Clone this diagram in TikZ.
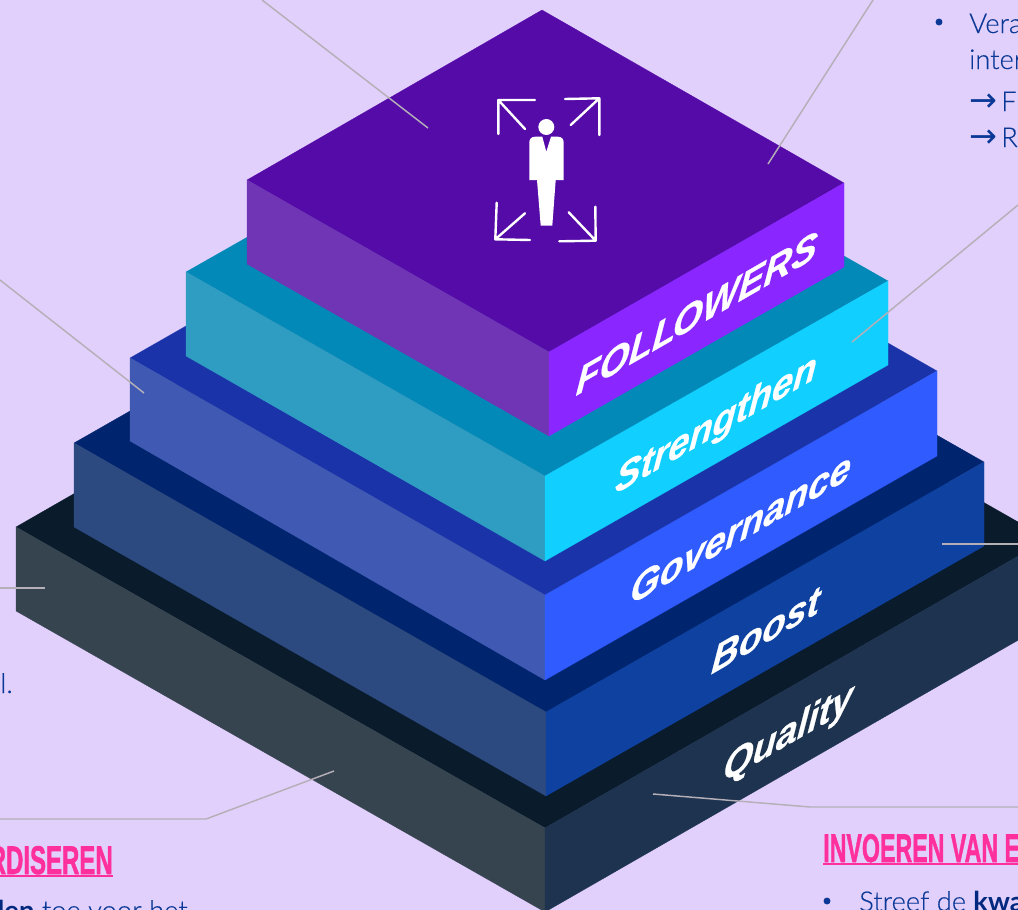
\documentclass[tikz,border=0pt]{standalone}
\usepackage{fontspec}
\usepackage{tkz-euclide}
\usetikzlibrary{calc}
\usetikzlibrary{positioning}
\setmainfont{Lato Light}[BoldFont=Lato Bold,UprightFeatures={FakeBold=0.25}]
\newfontfamily\lblfont{Liberation Sans}[BoldItalicFeatures={FakeBold=0.6}]
\newfontfamily\headfont{Liberation Sans}[BoldFeatures={FakeBold=1.6}]
\newfontfamily\symfont{DejaVu Sans}

\definecolor{bgviolet}{HTML}{E2D0FC}
\definecolor{leader}{HTML}{B5AFB8}
\definecolor{bodyblue}{HTML}{0A3896}
\definecolor{boldblue}{HTML}{00287E}
\definecolor{headpink}{HTML}{FF2F9E}
\definecolor{qtop}{HTML}{0A1B2C}
\definecolor{qleft}{HTML}{36444F}
\definecolor{qright}{HTML}{1D334F}
\definecolor{btop}{HTML}{00246E}
\definecolor{bleft}{HTML}{2C4A80}
\definecolor{bright}{HTML}{0F42A0}
\definecolor{gtop}{HTML}{1A33A8}
\definecolor{gleft}{HTML}{405AB4}
\definecolor{gright}{HTML}{2F5BFF}
\definecolor{stop}{HTML}{0389B8}
\definecolor{sleft}{HTML}{2F9CC1}
\definecolor{sright}{HTML}{11CFFF}
\definecolor{ftop}{HTML}{540BA8}
\definecolor{fleft}{HTML}{7035B5}
\definecolor{fright}{HTML}{8A26FF}

\tikzset{
  face/.style={fill=#1,draw=#1,line width=0.2pt},
  leaderline/.style={draw=leader,line width=1.1pt},
  headrule/.style={draw=headpink,line width=1.4pt},
  iconline/.style={draw=white,line width=1.8pt,line cap=round,line join=round},
  stepname/.style={font=\lblfont\bfseries\itshape\fontsize{33}{33}\selectfont,text=white,inner sep=0pt,
    cm={0.866,0.5,0.091,0.909,(0,0)}},
  bodytext/.style={font=\fontsize{20.5}{26}\selectfont,text=bodyblue,inner sep=0pt,anchor=base west},
  headtext/.style={font=\headfont\bfseries\fontsize{30}{30}\selectfont,text=headpink,inner sep=0pt},
  dotmark/.style={fill=bodyblue,draw=none,circle,minimum size=5.2pt,inner sep=0pt},
}

\begin{document}
\begin{tikzpicture}[x=0.75pt,y=-0.75pt]

  \useasboundingbox (0,0) rectangle (1018,910);
  \clip (0,0) rectangle (1018,910);
  \fill[bgviolet] (0,0) rectangle (1018,910);

  % layer corners: back, right, front, left, then lower right, front, left
  \tkzDefPoint(519,238){q0}
  \tkzDefPoint(1048,539){q1}
  \tkzDefPoint(545,828){q2}
  \tkzDefPoint(16,527){q3}
  \tkzDefPoint(1048,623){q4}
  \tkzDefPoint(545,912){q5}
  \tkzDefPoint(16,611){q6}

  \tkzDefPoint(512,193){b0}
  \tkzDefPoint(984,462){b1}
  \tkzDefPoint(546,712){b2}
  \tkzDefPoint(74,443){b3}
  \tkzDefPoint(984,546){b4}
  \tkzDefPoint(546,796){b5}
  \tkzDefPoint(74,527){b6}

  \tkzDefPoint(522,134){g0}
  \tkzDefPoint(937,371){g1}
  \tkzDefPoint(545,595){g2}
  \tkzDefPoint(130,358){g3}
  \tkzDefPoint(937,456){g4}
  \tkzDefPoint(545,680){g5}
  \tkzDefPoint(130,441){g6}

  \tkzDefPoint(529,77){s0}
  \tkzDefPoint(888,281){s1}
  \tkzDefPoint(545,476){s2}
  \tkzDefPoint(186,272){s3}
  \tkzDefPoint(888,365){s4}
  \tkzDefPoint(545,561){s5}
  \tkzDefPoint(186,356){s6}

  \tkzDefPoint(542,10){f0}
  \tkzDefPoint(844,183){f1}
  \tkzDefPoint(549,352){f2}
  \tkzDefPoint(247,180){f3}
  \tkzDefPoint(844,267){f4}
  \tkzDefPoint(549,436){f5}
  \tkzDefPoint(247,264){f6}

  \tkzDrawPolygon[face=qtop](q0,q1,q2,q3)
  \tkzDrawPolygon[face=qleft](q3,q2,q5,q6)
  \tkzDrawPolygon[face=qright](q2,q1,q4,q5)

  \tkzDrawPolygon[face=btop](b0,b1,b2,b3)
  \tkzDrawPolygon[face=bleft](b3,b2,b5,b6)
  \tkzDrawPolygon[face=bright](b2,b1,b4,b5)

  \tkzDrawPolygon[face=gtop](g0,g1,g2,g3)
  \tkzDrawPolygon[face=gleft](g3,g2,g5,g6)
  \tkzDrawPolygon[face=gright](g2,g1,g4,g5)

  \tkzDrawPolygon[face=stop](s0,s1,s2,s3)
  \tkzDrawPolygon[face=sleft](s3,s2,s5,s6)
  \tkzDrawPolygon[face=sright](s2,s1,s4,s5)

  \tkzDrawPolygon[face=ftop](f0,f1,f2,f3)
  \tkzDrawPolygon[face=fleft](f3,f2,f5,f6)
  \tkzDrawPolygon[face=fright](f2,f1,f4,f5)

  % names on the right faces
  \node[stepname] (followers) at (697,313) {FOLL\kern-2.5pt OWERS};
  \node[stepname] (strengthen) at (716,426) {Strengthen};
  \node[stepname] (governance) at (741,528) {Governance};
  \node[stepname] (boost) at (766,630) {Boost};
  \node[stepname] (quality) at (788,735) {Quality};

  % person with four arrows
  \fill[white] (546.3,127) circle (8);
  \fill[white] (529.3,180) -- (529.3,143) .. controls (529.3,139) and (531,137) .. (535,136.7)
    -- (542.3,136.7) -- (546.3,151.7) -- (551,136.7) -- (558,136.7)
    .. controls (562,137) and (563.7,139) .. (563.7,143) -- (563.7,180) -- (555.7,180)
    -- (552.3,225.7) -- (540.7,225.7) -- (537,180) -- cycle;
  \draw[iconline] (535,100) -- (498.3,100) -- (498.3,134) (498.3,100) -- (525,129);
  \draw[iconline] (565,99) -- (599.3,98.3) -- (599.3,135) (599.3,98.3) -- (570.7,125);
  \draw[iconline] (496.7,202.7) -- (495.3,239.3) -- (530,240) (495.3,239.3) -- (525,213.3);
  \draw[iconline] (595.3,206.7) -- (595.7,240.7) -- (559.3,241.3) (595.7,240.7) -- (568.7,212.3);

  % leaders
  \tkzDefPoint(262,0){l0}
  \tkzDefPoint(428,128){l1}
  \tkzDefPoint(873,0){l2}
  \tkzDefPoint(768,164){l3}
  \tkzDefPoint(1018,205){l4}
  \tkzDefPoint(852,342){l5}
  \tkzDefPoint(0,280){l6}
  \tkzDefPoint(144,393){l7}
  \tkzDefPoint(0,588){l8}
  \tkzDefPoint(45,588){l9}
  \tkzDefPoint(0,819){l10}
  \tkzDefPoint(206,819){l11}
  \tkzDefPoint(334,771){l12}
  \tkzDefPoint(1018,807){l13}
  \tkzDefPoint(810,807){l14}
  \tkzDefPoint(653,794){l15}
  \tkzDefPoint(1018,544){l16}
  \tkzDefPoint(942,544){l17}

  \draw[leaderline] (l0) -- (l1);
  \draw[leaderline] (l2) -- (l3);
  \draw[leaderline] (l4) -- (l5);
  \draw[leaderline] (l6) -- (l7);
  \draw[leaderline,line width=1.5pt] (l8) -- (l9);
  \draw[leaderline] (l10) -- (l11) -- (l12);
  \draw[leaderline] (l13) -- (l14) -- (l15);
  \draw[leaderline,line width=1.5pt] (l16) -- (l17);

  % texts cut by the edge
  \node[bodytext] (vera) at (969,33) {Vera};
  \node[bodytext] (inter) at (969,69) {inter};
  \node[bodytext] (arrowf) at (969,111) {{\symfont\fontsize{25}{25}\selectfont →}\hspace{3pt}F};
  \node[bodytext] (arrowr) at (969,147) {{\symfont\fontsize{25}{25}\selectfont →}\hspace{3pt}R};
  \node[bodytext,anchor=base east] (el) at (13,693) {el.};
  \node[bodytext] (streef) at (859,911) {Streef de \textcolor{boldblue}{\bfseries kwa}};
  \node[bodytext,anchor=base east] (toe) at (188,920) {\textcolor{boldblue}{\bfseries den} toe voor het};
  \node[dotmark] (bulleta) at (939,22) {};
  \node[dotmark] (bulletb) at (827,901) {};

  % pink headings
  \node[headtext,anchor=base east] (headl) at (113,874) {\scalebox{0.6}[1]{RDISEREN}};
  \node[headtext,anchor=base west] (headr) at (823,862) {\scalebox{0.58}[1]{INVOEREN VAN EEN}};
  \draw[headrule] (0,876) -- (113,876);
  \draw[headrule] (823,864) -- (1018,864);

\end{tikzpicture}
\end{document}
